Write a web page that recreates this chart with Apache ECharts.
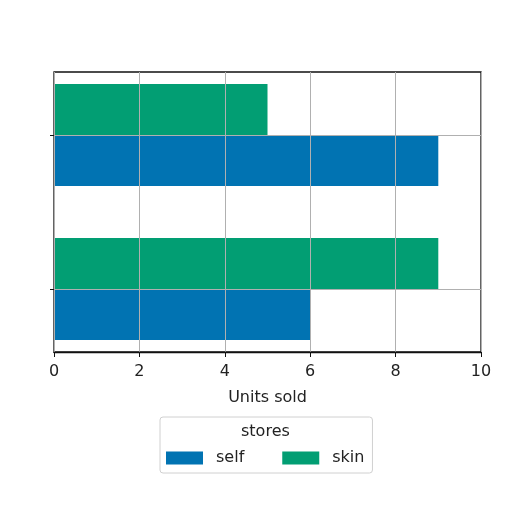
<!DOCTYPE html>
<html>
<head>
<meta charset="utf-8">
<script src="https://cdn.jsdelivr.net/npm/echarts@6/dist/echarts.min.js"></script>
<style>
  html, body { margin: 0; padding: 0; background: #fff; }
  #main { width: 512px; height: 512px; }
</style>
</head>
<body>
<div id="main"></div>
<script>
const categories = ["0", "1"];
const selfUnits = [6, 9];
const skinUnits = [9, 5];
const xTicks = { min: 0, max: 10, interval: 2 };

let chart = echarts.init(document.getElementById("main"));
const font = "DejaVu Sans";

let option = {
  animation: false,
  backgroundColor: "#fff",
  textStyle: { fontFamily: font },
  grid: [
    // bars grid: categories sit on the edges (boundaryGap false)
    { left: 54, right: 31, top: 135, bottom: 223 },
    // frame grid with the visible x axis
    { left: 54, right: 31, top: 72, bottom: 160, show: true, borderColor: "#111", borderWidth: 1.3, backgroundColor: "transparent" }
  ],
  xAxis: [
    { gridIndex: 0, type: "value", min: xTicks.min, max: xTicks.max, interval: xTicks.interval, show: false },
    {
      gridIndex: 1, type: "value", min: xTicks.min, max: xTicks.max, interval: xTicks.interval,
      z: 3,
      name: "Units sold", nameLocation: "middle", nameGap: 38,
      nameTextStyle: { fontSize: 16, color: "#222", fontFamily: font },
      axisLine: { lineStyle: { color: "#111", width: 1.3 } },
      axisTick: { show: true, length: 5, lineStyle: { color: "#111" } },
      axisLabel: { fontSize: 16, color: "#222", margin: 12, fontFamily: font },
      splitLine: { show: true, lineStyle: { color: "#b0b0b0", width: 1 } }
    }
  ],
  yAxis: [
    {
      gridIndex: 0, type: "category", data: categories, boundaryGap: false,
      z: 3,
      axisLine: { show: false },
      axisLabel: { show: false },
      axisTick: { show: true, length: 4, lineStyle: { color: "#111" } },
      splitLine: { show: true, lineStyle: { color: "#b0b0b0", width: 1 } }
    },
    { gridIndex: 1, type: "value", show: false }
  ],
  legend: {
    data: ["self", "skin"],
    left: 160, top: 417,
    padding: [33, 8, 7, 6],
    itemWidth: 37, itemHeight: 13, itemGap: 38,
    borderColor: "#d0d0d0", borderWidth: 1, borderRadius: 3,
    backgroundColor: "rgba(255,255,255,0.8)",
    textStyle: { fontSize: 16, color: "#222", fontFamily: font, padding: [0, 0, 0, 8] },
    icon: "rect"
  },
  graphic: [{
    type: "text", left: 241, top: 424, z: 100,
    style: { text: "stores", fontSize: 16, fill: "#222", fontFamily: font }
  }],
  series: [
    // skin listed first so it sits above self in each category
    {
      name: "skin", type: "bar", xAxisIndex: 0, yAxisIndex: 0,
      data: skinUnits, barWidth: 51, barGap: "0%", clip: false,
      itemStyle: { color: "#029E73" }
    },
    {
      name: "self", type: "bar", xAxisIndex: 0, yAxisIndex: 0,
      data: selfUnits, barWidth: 51, barGap: "0%", clip: false,
      itemStyle: { color: "#0173B2" }
    }
  ]
};

chart.setOption(option);
</script>
</body>
</html>
